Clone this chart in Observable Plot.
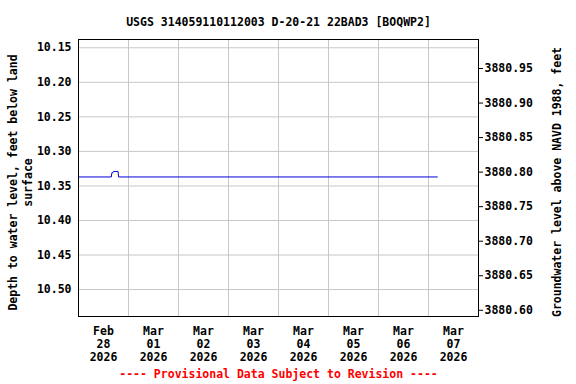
<!DOCTYPE html>
<html>
<head>
<meta charset="utf-8">
<script src="https://cdn.jsdelivr.net/npm/d3@7"></script>
<script src="https://cdn.jsdelivr.net/npm/@observablehq/plot@0.6"></script>
<style>
  html, body { margin: 0; padding: 0; background: #fff; }
</style>
</head>
<body>
<div id="chart"></div>
<script>
// ---- data ----
const title = "USGS 314059110112003 D-20-21 22BAD3 [BOQWP2]";
const footer = "---- Provisional Data Subject to Revision ----";
const leftLabel = "Depth to water level, feet below land\nsurface";
const rightLabel = "Groundwater level above NAVD 1988, feet";

const times = ["2026-02-28T00:00", "2026-02-28T15:45", "2026-02-28T16:00", "2026-02-28T16:30",
               "2026-02-28T16:45", "2026-02-28T19:00", "2026-02-28T19:15", "2026-03-07T04:15"];
const depths = [10.337, 10.337, 10.331, 10.331, 10.329, 10.329, 10.337, 10.337];

const landSurfaceElevation = 3891.13;

const leftTicks = [10.15, 10.20, 10.25, 10.30, 10.35, 10.40, 10.45, 10.50];
const rightTicks = [3880.60, 3880.65, 3880.70, 3880.75, 3880.80, 3880.85, 3880.90, 3880.95];

const tickDays = ["2026-02-28", "2026-03-01", "2026-03-02", "2026-03-03",
                  "2026-03-04", "2026-03-05", "2026-03-06", "2026-03-07"];
const tickMonths = ["Feb", "Mar", "Mar", "Mar", "Mar", "Mar", "Mar", "Mar"];
const tickDayNums = ["28", "01", "02", "03", "04", "05", "06", "07"];
const tickYears = ["2026", "2026", "2026", "2026", "2026", "2026", "2026", "2026"];
const gridDays = ["2026-03-01", "2026-03-02", "2026-03-03", "2026-03-04",
                  "2026-03-05", "2026-03-06", "2026-03-07"];

const xStart = "2026-02-28T00:00";
const xEnd = "2026-03-08T00:00";
const yDomain = [10.138, 10.539];

// ---- build ----
const series = times.map((t, i) => ({date: new Date(t), depth: depths[i]}));
const noonTicks = tickDays.map(d => new Date(d + "T12:00"));
const tickLabel = new Map(noonTicks.map((d, i) => [+d, `${tickMonths[i]}\n${tickDayNums[i]}\n${tickYears[i]}`]));
const gridDates = gridDays.map(d => new Date(d + "T00:00"));
const rightTickDepths = rightTicks.map(e => landSurfaceElevation - e);

const chart = Plot.plot({
  width: 576,
  height: 384,
  marginLeft: 78,
  marginRight: 98,
  marginTop: 39,
  marginBottom: 68,
  style: {
    fontFamily: "'DejaVu Sans Mono', monospace",
    fontSize: "11.5px",
    fontWeight: "bold",
    color: "black",
    background: "white"
  },
  x: {type: "time", domain: [new Date(xStart), new Date(xEnd)]},
  y: {domain: yDomain, reverse: true},
  marks: [
    Plot.gridY(leftTicks, {stroke: "#c8c8c8", strokeOpacity: 1, strokeWidth: 1}),
    Plot.gridX(gridDates, {stroke: "#c8c8c8", strokeOpacity: 1, strokeWidth: 1}),
    Plot.axisY(leftTicks, {anchor: "left", tickSize: 0, tickPadding: 7, tickFormat: d => d.toFixed(2), label: null}),
    Plot.axisY(rightTickDepths, {anchor: "right", tickSize: 4, tickPadding: 2,
      tickFormat: d => (landSurfaceElevation - d).toFixed(2), label: null}),
    Plot.axisX(noonTicks, {anchor: "bottom", tickSize: 0, tickPadding: 10,
      tickFormat: d => tickLabel.get(+d), lineHeight: 1.1, label: null}),
    Plot.line(series, {x: "date", y: "depth", stroke: "#0000dd", strokeWidth: 1, curve: "linear"}),
    Plot.frame({stroke: "black", strokeWidth: 1}),
    Plot.text([title], {frameAnchor: "top", dy: -22, fontSize: 11.5, fontWeight: "bold"}),
    Plot.text([footer], {frameAnchor: "bottom", dy: 61, fill: "#ff0000", fontSize: 11.5, fontWeight: "bold"}),
    Plot.text([leftLabel], {frameAnchor: "left", textAnchor: "middle", dx: -58.5, dy: 4.5, rotate: -90, lineHeight: 1.3, fontSize: 11.5, fontWeight: "bold"}),
    Plot.text([rightLabel], {frameAnchor: "right", textAnchor: "middle", dx: 79, dy: 4, rotate: -90, fontSize: 11.5, fontWeight: "bold"})
  ]
});
document.getElementById("chart").appendChild(chart);
</script>
</body>
</html>
